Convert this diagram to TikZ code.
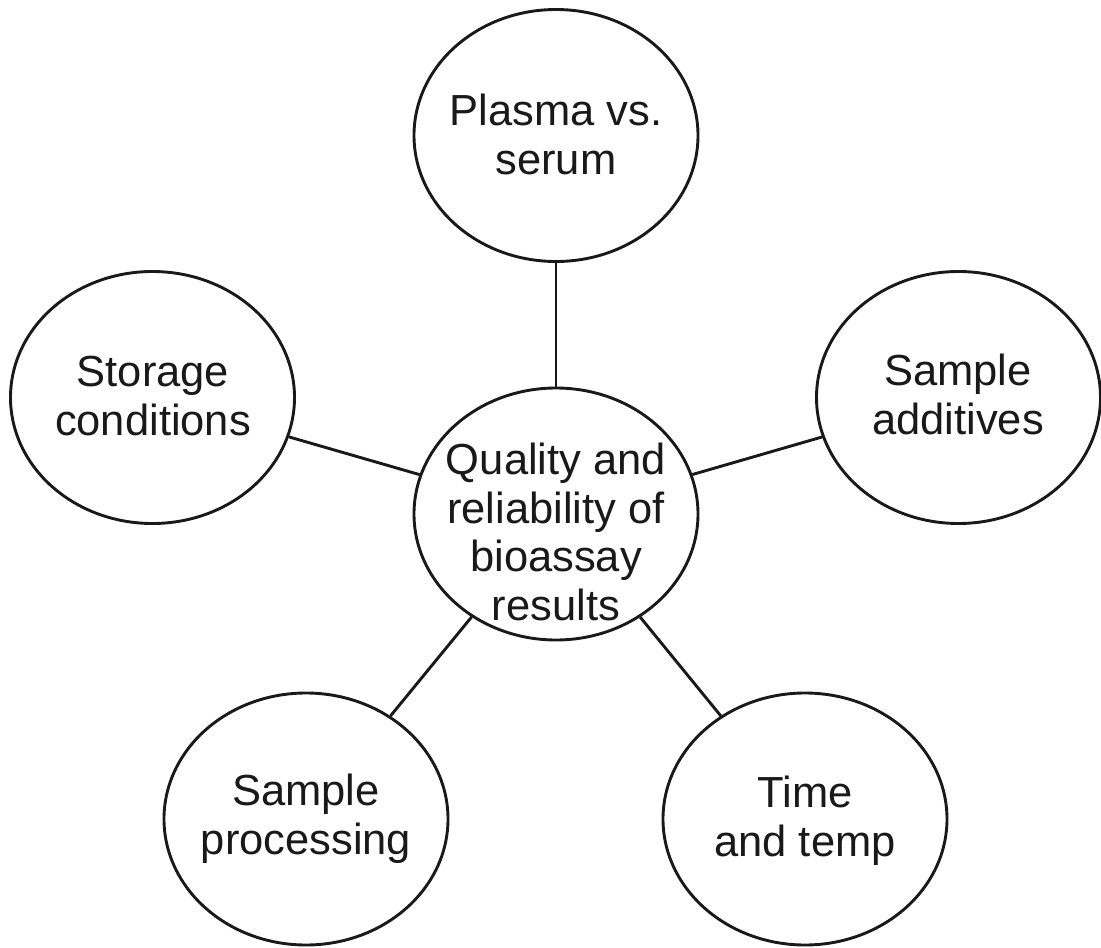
\documentclass[tikz,border=0pt]{standalone}
\usepackage{fontspec}
\setmainfont{Liberation Sans}
\usetikzlibrary{shapes.geometric}
\begin{document}
\begin{tikzpicture}[x=1pt,y=-1pt,
  bubble/.style={ellipse,draw=black!90,line width=2.9pt,minimum width=284pt,minimum height=252pt,inner sep=0pt},
  conn/.style={draw=black!90,line width=2.9pt},
  lbl/.style={align=center,inner sep=0pt,text=black!90,font=\fontsize{43.5}{48.5}\selectfont,anchor=base}]
\useasboundingbox (0,0) rectangle (1101,948);
\node[bubble] (c) at (556,514) {};
\node[bubble] (t) at (556,135.5) {};
\node[bubble] (l) at (152.5,397.5) {};
\node[bubble] (r) at (958.5,397.5) {};
\node[bubble] (bl) at (306,819) {};
\node[bubble] (br) at (805,819) {};
\draw[conn] (c) -- (t);
\draw[conn] (c) -- (l);
\draw[conn] (c) -- (r);
\draw[conn] (c) -- (bl);
\draw[conn] (c) -- (br);
\node[lbl] (ct) at (556,620) {Quality and\\reliability of\\bioassay\\results};
\node[lbl] (tt) at (556,174) {Plasma vs.\\serum};
\node[lbl] (lt) at (153,435) {Storage\\conditions};
\node[lbl] (rt) at (958,434) {Sample\\additives};
\node[lbl] (blt) at (306,854) {Sample\\processing};
\node[lbl] (brt) at (805,856) {Time\\and temp};
\end{tikzpicture}
\end{document}
